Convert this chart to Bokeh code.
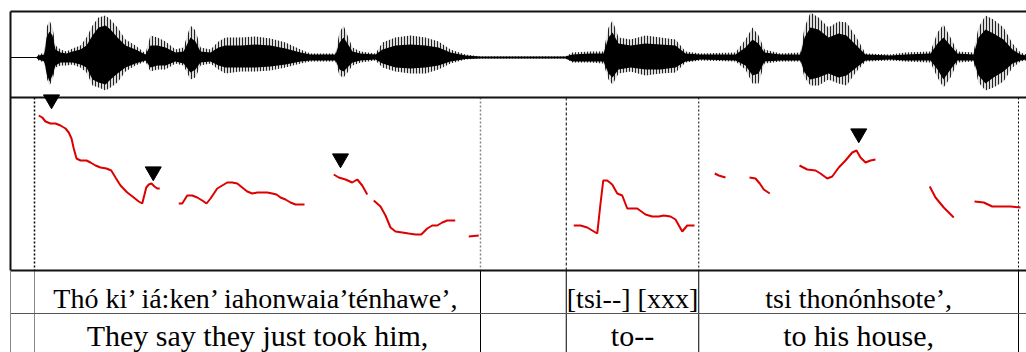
from bokeh.plotting import figure
from bokeh.models import Range1d
from bokeh.embed import file_html
from bokeh.resources import INLINE
from bokeh.core.properties import value

NaN = float("nan")

# ---- waveform envelope: time (s), amplitude (arbitrary units) ----
wav_t = [0.000, 0.104, 0.112, 0.136, 0.144, 0.156, 0.168, 0.180, 0.200, 0.224, 0.248, 0.280,
         0.304, 0.328, 0.352, 0.380, 0.400, 0.428, 0.460, 0.500, 0.540, 0.560, 0.588, 0.620,
         0.660, 0.692, 0.720, 0.740, 0.760, 0.800, 0.832, 0.860, 0.920, 0.980, 1.040, 1.100,
         1.160, 1.200, 1.300, 1.316, 1.332, 1.348, 1.368, 1.400, 1.460, 1.488, 1.540, 1.600,
         1.660, 1.712, 1.760, 1.820, 1.880, 2.220, 2.248, 2.320, 2.372, 2.392, 2.408, 2.432,
         2.480, 2.540, 2.600, 2.660, 2.700, 2.760, 2.900, 2.940, 2.968, 2.992, 3.016, 3.080,
         3.160, 3.176, 3.200, 3.232, 3.272, 3.312, 3.344, 3.384, 3.420, 3.520, 3.580, 3.680,
         3.708, 3.732, 3.760, 3.788, 3.852, 3.872, 3.900, 3.932, 3.972, 4.008, 4.040, 4.064]
wav_hi = [0.5, 0.5, 3, 5, 30, 37, 30, 12, 8, 6, 9, 12,
          20, 32, 40, 42, 38, 30, 18, 12, 4, 22, 20, 16,
          8, 10, 32, 27, 10, 8, 16, 20, 20, 21, 19, 15,
          8, 4, 4, 25, 32, 22, 10, 6, 4, 15, 20, 22,
          20, 16, 8, 3, 1, 1, 5, 6, 6, 30, 37, 20,
          18, 22, 20, 18, 6, 4, 5, 18, 30, 22, 8, 4,
          5, 30, 45, 40, 30, 36, 35, 20, 4, 3, 5, 6,
          25, 33, 20, 6, 5, 30, 42, 38, 30, 14, 5, 3]
wav_lo = [-0.5, -0.5, -3, -5, -20, -28, -22, -10, -8, -8, -7, -10,
          -15, -28, -30, -33, -30, -25, -14, -8, -4, -14, -12, -12,
          -6, -8, -22, -20, -8, -6, -12, -16, -14, -14, -13, -10,
          -6, -4, -4, -18, -20, -15, -8, -5, -3, -10, -14, -16,
          -16, -12, -6, -2, -1, -1, -5, -5, -6, -22, -27, -16,
          -14, -18, -16, -15, -5, -3, -4, -12, -26, -26, -6, -4,
          -4, -20, -28, -28, -22, -26, -28, -14, -4, -3, -4, -5,
          -20, -30, -20, -5, -4, -25, -33, -30, -24, -10, -4, -3]
wav_hi_in = [0.5, 0.5, 2, 3, 20, 26, 22, 8, 5, 4, 6, 8,
             12, 22, 30, 32, 28, 20, 12, 8, 3, 12, 12, 10,
             5, 6, 20, 16, 6, 5, 10, 12, 12, 13, 12, 9,
             5, 3, 3, 15, 20, 14, 6, 4, 3, 8, 12, 13,
             12, 10, 5, 2, 1, 1, 3, 4, 4, 20, 25, 14,
             12, 14, 13, 12, 4, 3, 3, 10, 18, 14, 5, 3,
             3, 20, 30, 28, 20, 24, 22, 12, 3, 2, 3, 4,
             14, 20, 12, 4, 3, 20, 28, 24, 18, 8, 3, 2]
wav_lo_in = [-0.5, -0.5, -2, -4, -16, -24, -18, -8, -5, -5, -5, -7,
             -10, -22, -25, -27, -22, -16, -10, -6, -3, -10, -8, -8,
             -4, -6, -15, -12, -5, -4, -8, -10, -10, -10, -9, -7,
             -4, -3, -3, -12, -14, -10, -5, -3, -2, -6, -10, -11,
             -10, -8, -4, -1.5, -1, -1, -4, -4, -4, -16, -20, -12,
             -10, -12, -12, -10, -4, -2, -3, -8, -18, -16, -4, -3,
             -3, -15, -22, -20, -16, -20, -18, -10, -3, -2, -3, -3,
             -12, -22, -12, -3, -3, -18, -26, -20, -14, -6, -3, -2]

# ---- pitch track: time (s), F0 (Hz), NaN = unvoiced gap ----
pitch_t = [0.113, 0.127, 0.140, 0.160, 0.180, 0.200, 0.220, 0.233, 0.244, 0.253, 0.264, 0.280,
           0.304, 0.320, 0.340, 0.360, 0.384, 0.403, 0.420, 0.440, 0.467, 0.493, 0.513, 0.527,
           0.533, 0.543, 0.553, 0.564, 0.576, 0.587, 0.597, NaN,
           0.673, 0.687, 0.707, 0.727, 0.747, 0.767, 0.784, 0.800, 0.827, 0.847, 0.867, 0.887,
           0.907, 0.927, 0.947, 0.967, 0.987, 1.007, 1.027, 1.047, 1.064, 1.080, 1.100, 1.120,
           1.140, 1.160, 1.176, NaN,
           1.293, 1.313, 1.340, 1.367, 1.387, 1.407, 1.427, NaN,
           1.453, 1.480, 1.500, 1.520, 1.540, 1.567, 1.593, 1.620, 1.643, 1.667, 1.687, 1.707,
           1.727, 1.747, 1.779, NaN,
           1.833, 1.873, NaN,
           2.253, 2.280, 2.307, 2.347, 2.360, 2.371, 2.387, 2.407, 2.427, 2.447, 2.467, 2.487,
           2.507, 2.540, 2.567, 2.593, 2.613, 2.640, 2.660, 2.687, 2.707, 2.736, NaN,
           2.817, 2.833, 2.860, NaN,
           2.956, 2.980, 2.997, 3.013, 3.037, NaN,
           3.156, 3.187, 3.220, 3.240, 3.267, 3.287, 3.313, 3.340, 3.367, 3.384, 3.400, 3.420,
           3.440, 3.460, NaN,
           3.677, 3.700, 3.733, 3.773, NaN,
           3.856, 3.893, 3.927, 3.960, 4.000, 4.040]
pitch_hz = [255, 253, 249, 247, 247, 245, 242, 238, 232, 222, 212, 210,
            210, 208, 205, 203, 202, 200, 193, 185, 178, 173, 169, 167,
            173, 183, 186, 187, 184, 182, 182, NaN,
            167, 167, 175, 175, 173, 170, 167, 172, 182, 185, 188, 188,
            187, 183, 179, 177, 178, 178, 178, 177, 176, 173, 171, 168,
            166, 166, 166, NaN,
            196, 193, 191, 188, 191, 185, 176, NaN,
            170, 164, 155, 143, 139, 138, 137, 136, 136, 142, 145, 145,
            148, 150, 150, NaN,
            134, 135, NaN,
            145, 145, 143, 137, 167, 190, 190, 186, 177, 175, 162, 162,
            162, 156, 154, 154, 155, 154, 151, 139, 145, 145, NaN,
            197, 195, 193, NaN,
            193, 192, 187, 181, 177, NaN,
            205, 201, 200, 197, 192, 194, 203, 210, 218, 220, 213, 208,
            210, 211, NaN,
            184, 173, 163, 153, NaN,
            169, 168, 164, 164, 164, 163]

# ---- pitch-accent markers ----
accent_t = [0.164, 0.571, 1.320, 3.393]
accent_hz = [271, 199, 212, 237]

# ---- TextGrid tiers ----
bounds = [0.0, 0.096, 1.880, 2.223, 2.753, 4.032, 4.064]
tier1 = ["", "Thó ki’ iá:ken’ iahonwaia’ténhawe’,", "", "[tsi--] [xxx]", "tsi thonónhsote’,", ""]
tier2 = ["", "They say they just took him,", "", "to--", "to his house,", ""]

# layout (page pixel rows)
Y_TOP, Y_SEP, Y_PBOT, Y_TSEP, Y_END = 11, 97, 270, 313, 352
T_END = 4.064

p = figure(width=1026, height=352, output_backend="svg", toolbar_location=None,
           x_range=Range1d(-0.040, T_END), y_range=Range1d(352, 0),
           x_axis_type=None, y_axis_type=None, min_border=0)
p.outline_line_color = None
p.grid.visible = False
p.background_fill_color = "white"
p.border_fill_color = "white"
p.extra_y_ranges = {"wav": Range1d(57 - 352, 57), "f0": Range1d(370 - 352, 370)}

# waveform: spiky outer peaks (vertical hatch) + dense black core
p.varea(x=wav_t, y1=wav_lo, y2=wav_hi, y_range_name="wav", fill_color="#9a9a9a", fill_alpha=0.35,
        hatch_pattern="vertical_line", hatch_color="#222222", hatch_scale=3, hatch_weight=1)
p.varea(x=wav_t, y1=wav_lo_in, y2=wav_hi_in, y_range_name="wav", fill_color="black")

# tier boundaries inside pitch panel
inner = bounds[1:-1]
styles = [("black", "2 2", 1.5), ("#888888", "2 2", 1.5), ("black", "3 2", 1),
          ("black", "2 2", 1), ("black", "2 2", 1)]
for b, (c, d, w) in zip(inner, styles):
    p.segment(x0=[b], y0=[Y_SEP], x1=[b], y1=[Y_PBOT], line_color=c, line_dash=d, line_width=w)

# tier boundaries inside tier rows
tier_cols = ["#888888", "black", "black", "black", "black"]
for b, c in zip(inner, tier_cols):
    p.segment(x0=[b], y0=[Y_PBOT], x1=[b], y1=[Y_END], line_color=c, line_width=1)

# frame lines
p.segment(x0=[0, 0, 0], y0=[Y_TOP, Y_SEP, Y_PBOT], x1=[T_END] * 3, y1=[Y_TOP, Y_SEP, Y_PBOT],
          line_color="#111111", line_width=2)
p.segment(x0=[0], y0=[Y_TSEP], x1=[T_END], y1=[Y_TSEP], line_color="#555555", line_width=1)
p.segment(x0=[0], y0=[Y_TOP], x1=[0], y1=[Y_PBOT], line_color="#111111", line_width=2)
p.segment(x0=[0], y0=[Y_PBOT], x1=[0], y1=[Y_END], line_color="#888888", line_width=1)

# pitch
p.line(pitch_t, pitch_hz, y_range_name="f0", line_color="#dd0000", line_width=2)
p.scatter(accent_t, accent_hz, y_range_name="f0", marker="inverted_triangle", size=16,
          fill_color="black", line_color="black")

# tier texts
mids = [(bounds[i] + bounds[i + 1]) / 2 for i in range(len(bounds) - 1)]
for labels, ymid, fs in ((tier1, 298, "28px"), (tier2, 335, "30px")):
    xs = [m for m, l in zip(mids, labels) if l]
    ts = [l for l in labels if l]
    p.text(x=xs, y=[ymid] * len(xs), text=ts, text_align="center", text_baseline="middle",
           text_font=value("Liberation Serif"), text_font_size=value(fs), text_color="black")

open("out.html", "w").write(file_html(p, INLINE))
